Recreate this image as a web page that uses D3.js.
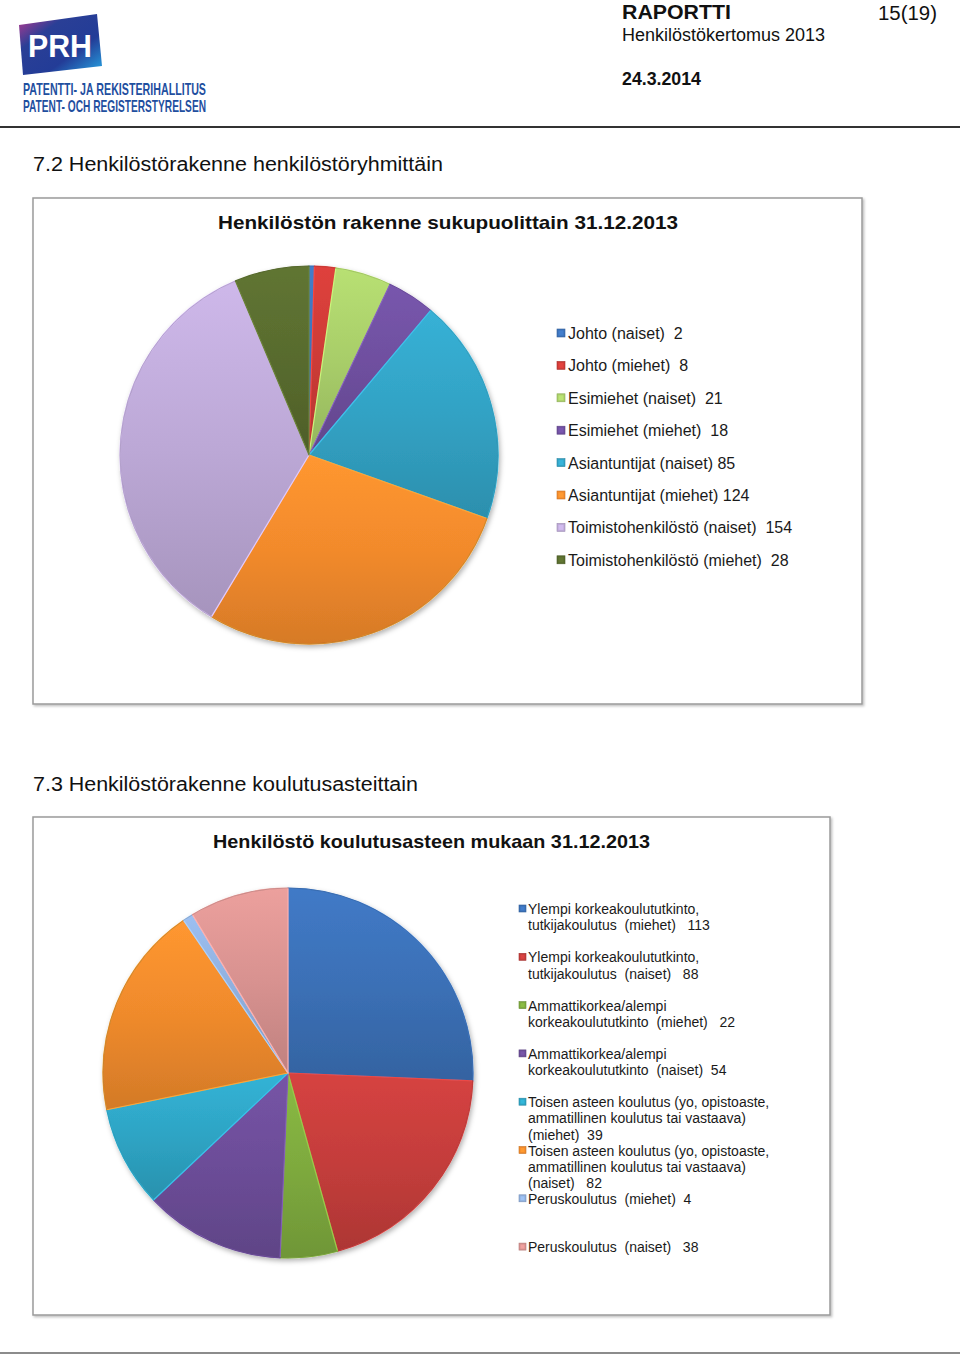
<!DOCTYPE html>
<html><head><meta charset="utf-8">
<script src="https://cdn.jsdelivr.net/npm/d3@7"></script>
<style>
html,body{margin:0;padding:0;background:#fff;}
svg{display:block;font-family:"Liberation Sans",Arial,sans-serif;}
text{white-space:pre;}
</style></head>
<body>
<svg id="chart" width="960" height="1355"></svg>
<script>
// ---- Chart 1 data ----
const categories1 = ["Johto (naiset)", "Johto (miehet)", "Esimiehet (naiset)", "Esimiehet (miehet)",
  "Asiantuntijat (naiset)", "Asiantuntijat (miehet)", "Toimistohenkilöstö (naiset)", "Toimistohenkilöstö (miehet)"];
const values1 = [2, 8, 21, 18, 85, 124, 154, 28];
const separators1 = ["  ", "  ", "  ", "  ", " ", " ", "  ", "  "];
const colors1 = ["#3d72b8", "#cc3b37", "#a8cd69", "#6e4f9e", "#32a2c4", "#f28a2c", "#bca8d6", "#586b2e"];

// ---- Chart 2 data ----
const categories2 = [
  ["Ylempi korkeakoulututkinto,", "tutkijakoulutus  (miehet)"],
  ["Ylempi korkeakoulututkinto,", "tutkijakoulutus  (naiset)"],
  ["Ammattikorkea/alempi", "korkeakoulututkinto  (miehet)"],
  ["Ammattikorkea/alempi", "korkeakoulututkinto  (naiset)"],
  ["Toisen asteen koulutus (yo, opistoaste,", "ammatillinen koulutus tai vastaava)", "(miehet)"],
  ["Toisen asteen koulutus (yo, opistoaste,", "ammatillinen koulutus tai vastaava)", "(naiset)"],
  ["Peruskoulutus  (miehet)"],
  ["Peruskoulutus  (naiset)"]
];
const values2 = [113, 88, 22, 54, 39, 82, 4, 38];
const separators2 = ["   ", "   ", "   ", "  ", "  ", "   ", "  ", "   "];
const colors2 = ["#3b70b6", "#c43d3b", "#7eaa3e", "#6c4d98", "#2ea4c4", "#ef8a2c", "#8fafdc", "#d89290"];

const svg = d3.select("#chart");
const defs = svg.append("defs");

// drop shadow
const f = defs.append("filter").attr("id","shadow").attr("x","-10%").attr("y","-10%").attr("width","125%").attr("height","125%");
f.append("feDropShadow").attr("dx",1.5).attr("dy",2.5).attr("stdDeviation",2.5).attr("flood-color","#000").attr("flood-opacity",0.3);
const fb = defs.append("filter").attr("id","boxshadow").attr("x","-5%").attr("y","-5%").attr("width","110%").attr("height","110%");
fb.append("feDropShadow").attr("dx",1.5).attr("dy",1.5).attr("stdDeviation",1.2).attr("flood-color","#000").attr("flood-opacity",0.25);

// ---- Header ----
const lg = defs.append("linearGradient").attr("id","logoGrad").attr("x1","0").attr("y1","0").attr("x2","1").attr("y2","1");
lg.append("stop").attr("offset","0").attr("stop-color","#c0398f");
lg.append("stop").attr("offset","0.3").attr("stop-color","#2a3f96");
lg.append("stop").attr("offset","0.65").attr("stop-color","#233c97");
lg.append("stop").attr("offset","1").attr("stop-color","#27a9e6");
svg.append("path").attr("d","M19,25 L97,14 L102,66 L23,75 Z").attr("fill","url(#logoGrad)");
svg.append("text").attr("x",60).attr("y",57).attr("text-anchor","middle")
  .attr("font-size",31).attr("font-weight","bold").attr("fill","#fff")
  .attr("textLength",64).attr("lengthAdjust","spacingAndGlyphs").text("PRH");
svg.append("text").attr("x",23).attr("y",95).attr("font-size",16.5).attr("font-weight","bold")
  .attr("font-family","'Liberation Sans Narrow','Liberation Sans',Arial").attr("fill","#1f4f9f")
  .attr("textLength",183).attr("lengthAdjust","spacingAndGlyphs").text("PATENTTI- JA REKISTERIHALLITUS");
svg.append("text").attr("x",23).attr("y",112).attr("font-size",16.5).attr("font-weight","bold")
  .attr("font-family","'Liberation Sans Narrow','Liberation Sans',Arial").attr("fill","#1f4f9f")
  .attr("textLength",183).attr("lengthAdjust","spacingAndGlyphs").text("PATENT- OCH REGISTERSTYRELSEN");

svg.append("text").attr("x",622).attr("y",19).attr("font-size",21).attr("font-weight","bold").attr("fill","#111")
  .attr("textLength",109).attr("lengthAdjust","spacingAndGlyphs").text("RAPORTTI");
svg.append("text").attr("x",878).attr("y",20).attr("font-size",20).attr("fill","#111")
  .attr("textLength",59).attr("lengthAdjust","spacingAndGlyphs").text("15(19)");
svg.append("text").attr("x",622).attr("y",41).attr("font-size",18).attr("fill","#111")
  .attr("textLength",203).attr("lengthAdjust","spacingAndGlyphs").text("Henkilöstökertomus 2013");
svg.append("text").attr("x",622).attr("y",85).attr("font-size",18).attr("font-weight","bold").attr("fill","#111")
  .attr("textLength",79).attr("lengthAdjust","spacingAndGlyphs").text("24.3.2014");
svg.append("line").attr("x1",0).attr("x2",960).attr("y1",127).attr("y2",127).attr("stroke","#333").attr("stroke-width",2);
svg.append("line").attr("x1",0).attr("x2",960).attr("y1",1353).attr("y2",1353).attr("stroke","#666").attr("stroke-width",1.5);

// section headings
svg.append("text").attr("x",33).attr("y",171).attr("font-size",20).attr("fill","#111")
  .attr("textLength",410).attr("lengthAdjust","spacingAndGlyphs").text("7.2 Henkilöstörakenne henkilöstöryhmittäin");
svg.append("text").attr("x",33).attr("y",791).attr("font-size",20).attr("fill","#111")
  .attr("textLength",385).attr("lengthAdjust","spacingAndGlyphs").text("7.3 Henkilöstörakenne koulutusasteittain");

function gradFor(id, color){
  const c = d3.color(color);
  const g = defs.append("linearGradient").attr("id",id).attr("x1","0").attr("y1","0").attr("x2","0").attr("y2","1");
  g.append("stop").attr("offset","0").attr("stop-color", d3.color(color).brighter(0.25).formatHex());
  g.append("stop").attr("offset","0.5").attr("stop-color", c.formatHex());
  g.append("stop").attr("offset","1").attr("stop-color", d3.color(color).darker(0.35).formatHex());
  return "url(#"+id+")";
}

function drawChart(opts){
  const {box, title, titleX, titleY, titleLen, titleSize, cx, cy, r, values, colors, prefix} = opts;
  svg.append("rect").attr("x",box[0]).attr("y",box[1]).attr("width",box[2]-box[0]).attr("height",box[3]-box[1])
    .attr("fill","#fff").attr("stroke","#9a9a9a").attr("stroke-width",1.5).attr("filter","url(#boxshadow)");
  svg.append("text").attr("x",titleX).attr("y",titleY).attr("font-size",titleSize).attr("font-weight","bold").attr("fill","#111")
    .attr("textLength",titleLen).attr("lengthAdjust","spacingAndGlyphs").text(title);

  const pie = d3.pie().sort(null).value(d => d).startAngle(0).endAngle(2*Math.PI);
  const arc = d3.arc().innerRadius(0).outerRadius(r);
  const g = svg.append("g").attr("transform",`translate(${cx},${cy})`).attr("filter","url(#shadow)");
  g.selectAll("path").data(pie(values)).join("path")
    .attr("d", arc)
    .attr("fill", (d,i) => gradFor(prefix+"g"+i, colors[i]))
    .attr("stroke", (d,i) => d3.color(colors[i]).brighter(0.5).formatHex())
    .attr("stroke-width", 1.2)
    .attr("stroke-linejoin","round");
  g.append("circle").attr("r", r).attr("fill","none").attr("stroke","rgba(0,0,0,0.25)").attr("stroke-width",0.8);
}

function marker(x, y, size, color){
  svg.append("rect").attr("x",x).attr("y",y).attr("width",size).attr("height",size)
    .attr("fill", d3.color(color).formatHex()).attr("stroke", d3.color(color).darker(0.5).formatHex()).attr("stroke-width",0.6);
  svg.append("rect").attr("x",x+1.5).attr("y",y+1.5).attr("width",size-3).attr("height",size-3)
    .attr("fill", d3.color(color).brighter(0.3).formatHex());
}

// ---- Chart 1 ----
drawChart({box:[33,198,862,704], title:"Henkilöstön rakenne sukupuolittain 31.12.2013",
  titleX:218, titleY:229, titleLen:460, titleSize:19, cx:309, cy:455, r:189,
  values:values1, colors:colors1, prefix:"c1"});
categories1.forEach((c,i) => {
  const yc = 333 + i*32.4;
  marker(557, yc-4, 8, colors1[i]);
  svg.append("text").attr("x",568).attr("y",yc+6).attr("font-size",16).attr("fill","#1a1a1a")
    .text(c + separators1[i] + values1[i]);
});

// ---- Chart 2 ----
drawChart({box:[33,817,830,1315], title:"Henkilöstö koulutusasteen mukaan 31.12.2013",
  titleX:213, titleY:848, titleLen:437, titleSize:19, cx:288, cy:1073, r:185,
  values:values2, colors:colors2, prefix:"c2"});
categories2.forEach((lines,i) => {
  const y0 = 909 + i*48.3;
  marker(519, y0-4, 7, colors2[i]);
  lines.forEach((ln,j) => {
    const txt = j === lines.length-1 ? ln + separators2[i] + values2[i] : ln;
    svg.append("text").attr("x",528).attr("y",y0 + j*16.2 + 5).attr("font-size",14).attr("fill","#1a1a1a").text(txt);
  });
});
</script>
</body></html>
